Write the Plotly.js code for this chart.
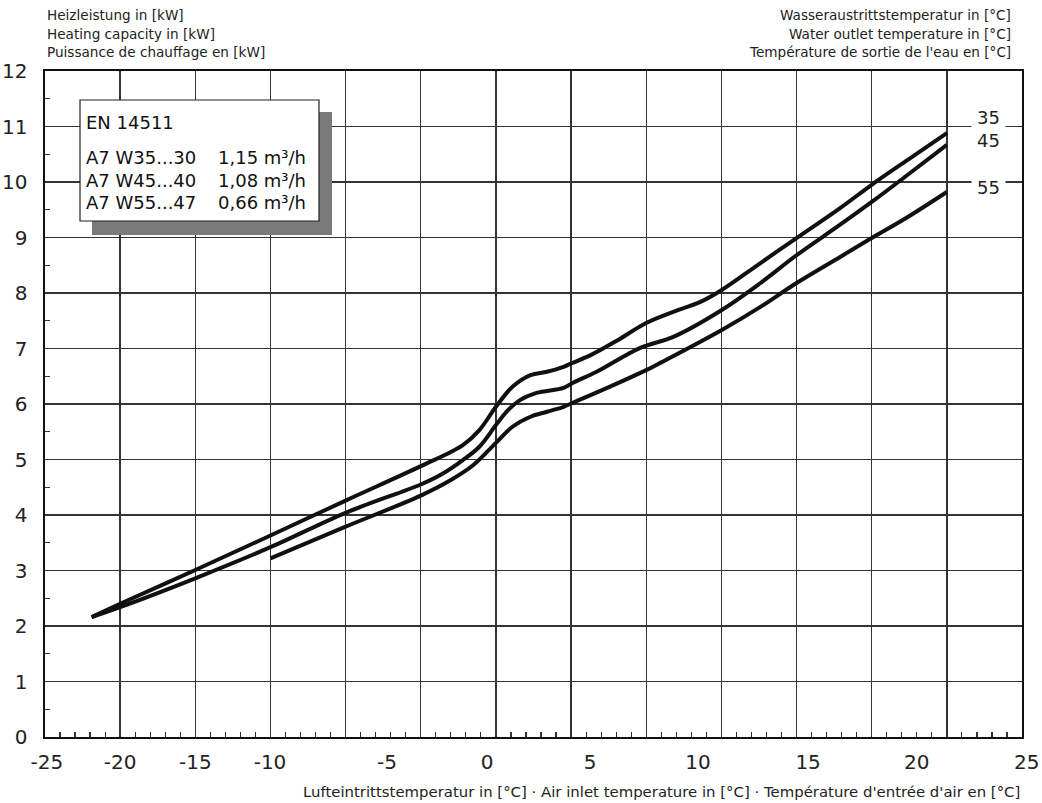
<!DOCTYPE html>
<html>
<head>
<meta charset="utf-8">
<script src="https://cdn.plot.ly/plotly-3.0.1.min.js"></script>
<style>html,body{margin:0;padding:0;background:#fff;}#chart{width:1042px;height:803px;}</style>
</head>
<body>
<div id="chart"></div>
<script>
// Curves: x in chart grid units (grid lines every 5 units, -25 .. 40), y in kW
const x35 = [-21.9, -20, -15, -10, -5, 0, 2.8, 3.9, 5, 6.1, 7.3, 8.4, 9.5, 10, 11.3, 13.1, 15, 16.8, 18.6, 20, 22.6, 25, 27.9, 30, 32.4, 35];
const y35 = [2.16, 2.40, 3.01, 3.63, 4.26, 4.88, 5.26, 5.53, 5.95, 6.31, 6.52, 6.58, 6.67, 6.73, 6.88, 7.15, 7.46, 7.66, 7.84, 8.05, 8.54, 8.99, 9.53, 9.95, 10.40, 10.88];

const x45 = [-21.9, -20, -15, -10, -5, 0, 1.3, 2.8, 3.9, 5, 5.7, 6.6, 7.7, 9.5, 10.1, 11.7, 14.6, 16.8, 20, 22.6, 25, 27.9, 30, 32.4, 35];
const y45 = [2.16, 2.34, 2.86, 3.42, 4.04, 4.55, 4.72, 4.99, 5.23, 5.62, 5.86, 6.07, 6.20, 6.29, 6.38, 6.58, 7.01, 7.21, 7.69, 8.18, 8.68, 9.23, 9.64, 10.13, 10.67];

const x55 = [-10, -5, 0, 2.0, 3.5, 5, 6.1, 7.3, 8.4, 9.5, 10.1, 12.4, 15, 16, 20, 22.6, 25, 27.9, 30, 32.4, 35];
const y55 = [3.22, 3.79, 4.35, 4.63, 4.90, 5.30, 5.59, 5.77, 5.86, 5.95, 6.02, 6.29, 6.61, 6.75, 7.33, 7.75, 8.18, 8.65, 8.99, 9.37, 9.82];

const seriesNames = ['35', '45', '55'];

// Printed x tick labels and where they sit (in grid units)
const xTickText = ['-25', '-20', '-15', '-10', '-5', '0', '5', '10', '15', '20', '25'];
const xTickPos  = [-24.87, -20, -15, -10.03, -2.25, 4.41, 11.26, 18.45, 25.77, 33.0, 40.3];

const legendTitle = 'EN 14511';
const legendCol1 = ['A7 W35...30', 'A7 W45...40', 'A7 W55...47'];
const legendCol2 = ['1,15 m³/h', '1,08 m³/h', '0,66 m³/h'];

const yTitleLines = ['Heizleistung in [kW]', 'Heating capacity in [kW]', 'Puissance de chauffage en [kW]'];
const rTitleLines = ['Wasseraustrittstemperatur in [°C]', 'Water outlet temperature in [°C]', 'Température de sortie de l\'eau en [°C]'];
const xTitle = 'Lufteintrittstemperatur in [°C] · Air inlet temperature in [°C] · Température d\'entrée d\'air en [°C]';

const FONT = 'DejaVu Sans, Liberation Sans, Arial, sans-serif';
const XR = [-25, 40];

const lineStyle = {color: '#111', width: 4, shape: 'spline', smoothing: 1};
const xs = [x35, x45, x55], ys = [y35, y45, y55];
// 35 and 45 on the grid axis, 55 on the (identical-range) label axis so both axes are drawn
const xAxisOf = ['x', 'x', 'x2'];
const traces = xs.map((xv, i) => ({
  type: 'scatter', mode: 'lines', x: xv, y: ys[i], name: seriesNames[i],
  line: lineStyle, xaxis: xAxisOf[i], yaxis: 'y', hoverinfo: 'x+y'
}));

const inRange = xTickPos.map(v => v >= XR[0] && v <= XR[1]);
const toPaperX = v => (v - XR[0]) / (XR[1] - XR[0]);

const annotations = [];
// top-left and top-right headings
yTitleLines.forEach((t, i) => annotations.push({
  text: t, xref: 'paper', yref: 'paper', x: 0, y: 1, xanchor: 'left', yanchor: 'middle',
  yshift: 56 - i * 18.5, showarrow: false, font: {family: FONT, size: 13.6, color: '#222'}
}));
rTitleLines.forEach((t, i) => annotations.push({
  text: t, xref: 'paper', yref: 'paper', x: 1, y: 1, xanchor: 'right', yanchor: 'middle',
  xshift: -9, yshift: 56 - i * 18.5, showarrow: false, font: {family: FONT, size: 13.6, color: '#222'}
}));
// x title
annotations.push({
  text: xTitle, xref: 'paper', yref: 'paper', x: 1, y: 0, xanchor: 'right', yanchor: 'middle',
  yshift: -55, showarrow: false, font: {family: FONT, size: 14.9, color: '#222'}
});
// out-of-range tick label(s)
xTickPos.forEach((p, i) => {
  if (!inRange[i]) annotations.push({
    text: xTickText[i], xref: 'paper', yref: 'paper', x: toPaperX(p), y: 0, xanchor: 'center', yanchor: 'middle',
    yshift: -25, showarrow: false, font: {family: FONT, size: 20, color: '#222'}
  });
});
// series labels at curve ends
const labelShift = [16, 5, 5];
ys.forEach((yv, i) => annotations.push({
  text: seriesNames[i], xref: 'x', yref: 'y', x: 37.75, y: yv[yv.length - 1],
  yshift: labelShift[i], xanchor: 'center', yanchor: 'middle', showarrow: false,
  bgcolor: '#fff', borderpad: 2, width: 29, height: 20,
  font: {family: FONT, size: 18, color: '#222'}
}));
// legend box texts
const px = v => (v - 45) / 977, py = v => (737 - v) / 666;
annotations.push({
  text: legendTitle, xref: 'paper', yref: 'paper', x: px(84), y: py(122), xanchor: 'left', yanchor: 'middle',
  showarrow: false, font: {family: FONT, size: 18, color: '#111'}
});
legendCol1.forEach((t, i) => {
  annotations.push({
    text: t, xref: 'paper', yref: 'paper', x: px(84), y: py(157 + i * 23), xanchor: 'left', yanchor: 'middle',
    showarrow: false, font: {family: FONT, size: 18, color: '#111'}
  });
  annotations.push({
    text: legendCol2[i], xref: 'paper', yref: 'paper', x: px(216), y: py(157 + i * 23), xanchor: 'left', yanchor: 'middle',
    showarrow: false, font: {family: FONT, size: 18, color: '#111'}
  });
});

const shapes = [
  {type: 'rect', xref: 'paper', yref: 'paper', x0: px(92), x1: px(332), y0: py(235), y1: py(112),
   fillcolor: '#7a7a7a', line: {width: 0}, layer: 'above'},
  {type: 'rect', xref: 'paper', yref: 'paper', x0: px(80), x1: px(319), y0: py(221), y1: py(100),
   fillcolor: '#fff', line: {color: '#222', width: 1.2}, layer: 'above'}
];

const layout = {
  width: 1042, height: 803,
  margin: {l: 45, r: 20, t: 71, b: 66, pad: 0},
  paper_bgcolor: '#fff', plot_bgcolor: '#fff',
  showlegend: false,
  font: {family: FONT, color: '#222'},
  xaxis: {
    range: XR, tick0: -25, dtick: 5, showticklabels: false, ticks: '',
    showgrid: true, gridcolor: '#333', gridwidth: 1.4, zeroline: false,
    showline: true, linecolor: '#111', linewidth: 1.6, mirror: true,
    minor: {dtick: 1, ticks: 'inside', ticklen: 5, tickcolor: '#333', tickwidth: 1.2, showgrid: false}
  },
  xaxis2: {
    overlaying: 'x', anchor: 'y', side: 'bottom', range: XR,
    tickmode: 'array', tickvals: xTickPos.filter((v, i) => inRange[i]), ticktext: xTickText.filter((v, i) => inRange[i]),
    showgrid: false, zeroline: false, showline: false, ticks: '', ticklabelstandoff: 11,
    tickfont: {family: FONT, size: 20, color: '#222'}
  },
  yaxis: {
    range: [0, 12], dtick: 1, tick0: 0, ticks: '',
    showgrid: true, gridcolor: '#333', gridwidth: 1.4, zeroline: false,
    showline: true, linecolor: '#111', linewidth: 1.6, mirror: true,
    ticklabelstandoff: 12,
    tickfont: {family: FONT, size: 20, color: '#222'},
    minor: {dtick: 0.5, ticks: 'inside', ticklen: 5, tickcolor: '#333', tickwidth: 1.2, showgrid: false}
  },
  annotations: annotations,
  shapes: shapes
};

Plotly.newPlot('chart', traces, layout, {displayModeBar: false, staticPlot: true});
</script>
</body>
</html>
